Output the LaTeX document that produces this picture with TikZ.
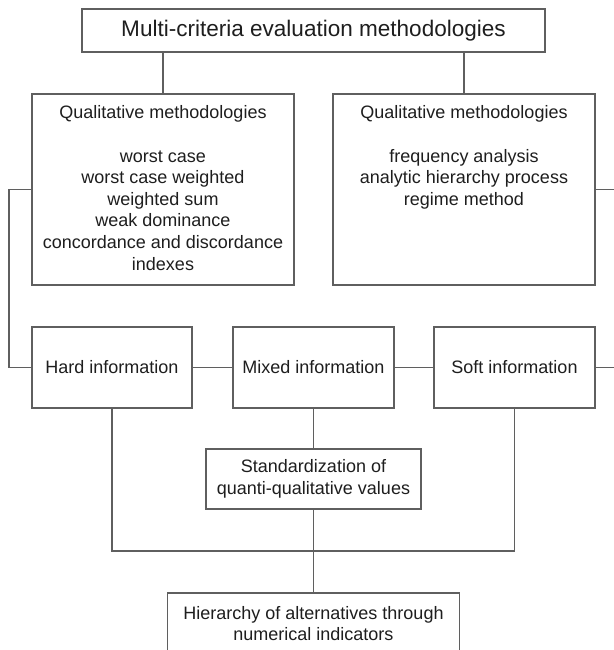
\documentclass[tikz,border=0pt]{standalone}
\usepackage{fontspec}
\setmainfont{Liberation Sans}
\definecolor{linegray}{HTML}{5F5F5F}
\definecolor{textblack}{HTML}{1E1E1E}
\begin{document}
\begin{tikzpicture}[x=0.75pt,y=-0.75pt,
  box/.style={draw=linegray, line width=0.8pt, inner sep=0pt, text=textblack, align=center,
    font=\fontsize{13.5pt}{16.2pt}\selectfont},
  txt/.style={inner sep=0pt, text=textblack, align=center, font=\fontsize{13.5pt}{16.2pt}\selectfont},
  conn/.style={draw=linegray, line width=0.8pt}]
\useasboundingbox[fill=white] (0,0) rectangle (614,650);
\begin{scope}
\clip (0,0) rectangle (614,650);
% nodes
\node[box, minimum width=347.25pt, minimum height=32.25pt, font=\fontsize{16.9pt}{20pt}\selectfont] (top) at (313.5,30.5) {Multi-criteria evaluation methodologies};
\node[box, minimum width=196.5pt, minimum height=143.25pt] (qualL) at (163,189.5) {};
\node[txt, anchor=north] (qualLtxt) at (163,105.5) {Qualitative methodologies\\[16.2pt]worst case\\worst case weighted\\weighted sum\\weak dominance\\concordance and discordance\\indexes};
\node[box, minimum width=196.5pt, minimum height=143.25pt] (qualR) at (464,189.5) {};
\node[txt, anchor=north] (qualRtxt) at (464,105.5) {Qualitative methodologies\\[16.2pt]frequency analysis\\analytic hierarchy process\\regime method};
\node[box, minimum width=120pt, minimum height=60.75pt] (hard) at (112,367.5) {Hard information};
\node[box, minimum width=120.75pt, minimum height=60.75pt] (mixed) at (313.5,367.5) {Mixed information};
\node[box, minimum width=120.75pt, minimum height=60.75pt] (soft) at (514.5,367.5) {Soft information};
\node[box, minimum width=161.25pt, minimum height=45pt] (std) at (313.5,479) {Standardization of\\quanti-qualitative values};
\node[box, minimum width=219pt, minimum height=45.75pt] (hier) at (313.5,623.5) {Hierarchy of alternatives through\\numerical indicators};
% connectors
\draw[conn] (qualL.north |- top.south) -- (qualL.north);
\draw[conn] (qualR.north |- top.south) -- (qualR.north);
\coordinate (lbend) at (9,189.5);
\draw[conn] (qualL.west) -- (lbend) |- (hard.west);
\coordinate (redgeA) at (620,189.5);
\draw[conn] (qualR.east) -- (redgeA);
\draw[conn] (hard.east) -- (mixed.west);
\draw[conn] (mixed.east) -- (soft.west);
\coordinate (redgeB) at (620,367.5);
\draw[conn] (soft.east) -- (redgeB);
\coordinate (busL) at (112,551);
\coordinate (busR) at (514.5,551);
\draw[conn] (hard.south) -- (busL) -- (busR) -- (soft.south);
\draw[conn] (mixed.south) -- (std.north);
\draw[conn] (std.south) -- (hier.north);
\end{scope}
\end{tikzpicture}
\end{document}
